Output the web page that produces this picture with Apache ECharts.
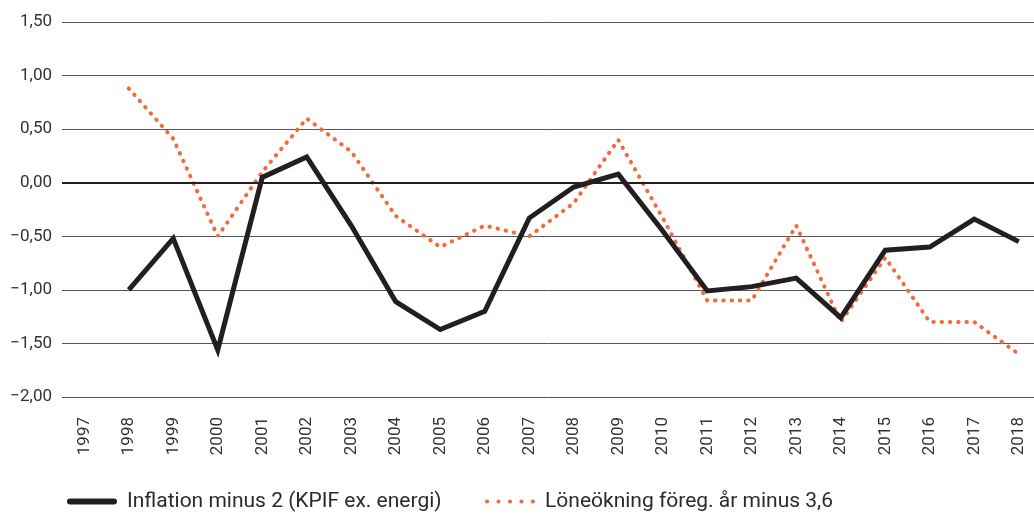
<!DOCTYPE html>
<html>
<head>
<meta charset="utf-8">
<script src="https://cdn.jsdelivr.net/npm/echarts@6/dist/echarts.min.js"></script>
<style>
  html, body { margin: 0; padding: 0; background: #fff; }
  #chart { width: 1034px; height: 513px; }
</style>
</head>
<body>
<div id="chart"></div>
<script>
// årtal på x-axeln
const years = ['1997', '1998', '1999', '2000', '2001', '2002', '2003', '2004', '2005', '2006', '2007',
  '2008', '2009', '2010', '2011', '2012', '2013', '2014', '2015', '2016', '2017', '2018']

// Inflation minus 2 (KPIF ex. energi)
const inflation = [null, -1.00, -0.52, -1.56, 0.05, 0.24, -0.40, -1.11, -1.37, -1.20, -0.33,
  -0.04, 0.08, -0.45, -1.01, -0.97, -0.89, -1.26, -0.63, -0.60, -0.34, -0.55]

// Löneökning föreg. år minus 3,6
const wages = [null, 0.88, 0.41, -0.50, 0.10, 0.60, 0.29, -0.31, -0.60, -0.40, -0.50,
  -0.19, 0.40, -0.33, -1.10, -1.10, -0.40, -1.30, -0.70, -1.30, -1.30, -1.60]

const seriesNames = ['Inflation minus 2 (KPIF ex. energi)', 'Löneökning föreg. år minus 3,6']
const yTicks = {min: -2, max: 1.5, interval: 0.5}

const black = '#231f20'
const orange = '#f26a3d'

// 1,50 / −2,00
const fmt = v => v.toFixed(2).replace('.', ',').replace('-', '\u2212')

// legend-ikoner: tjockt streck resp. fem prickar
const barIcon = 'path://M3,0h44a3,3 0 0,1 0,6h-44a3,3 0 0,1 0,-6z'
const dotIcon = 'path://' + [0, 11, 22, 33, 44].map(x => `M${x},2a2,2 0 1,0 4,0a2,2 0 1,0 -4,0z`).join('')

const legendText = {fontSize: 21, color: '#2b2b2b', fontFamily: 'Roboto', padding: [0, 0, 0, 5]}

const chart = echarts.init(document.getElementById('chart'))

const option = {
  animation: false,
  textStyle: {fontFamily: 'Roboto'},
  grid: {left: 62, right: -7, top: 22, bottom: 116, outerBoundsMode: 'none'},
  legend: [
    {
      left: 62,
      top: 486,
      itemWidth: 50,
      itemHeight: 6,
      itemStyle: {borderWidth: 0},
      textStyle: legendText,
      data: [{name: seriesNames[0], icon: barIcon}]
    },
    {
      left: 480,
      top: 486,
      itemWidth: 50,
      itemHeight: 5,
      itemStyle: {borderWidth: 0},
      textStyle: legendText,
      data: [{name: seriesNames[1], icon: dotIcon}]
    }
  ],
  xAxis: {
    type: 'category',
    data: years,
    boundaryGap: true,
    axisLine: {show: false},
    axisTick: {show: false},
    axisLabel: {rotate: 90, fontSize: 17, color: '#333', margin: 20}
  },
  yAxis: {
    type: 'value',
    min: yTicks.min,
    max: yTicks.max,
    interval: yTicks.interval,
    axisLine: {show: false},
    axisTick: {show: false},
    axisLabel: {formatter: fmt, fontSize: 17, color: '#333', margin: 10},
    splitLine: {lineStyle: {color: '#555', width: 1}}
  },
  series: [
    {
      name: seriesNames[0],
      type: 'line',
      data: inflation,
      symbol: 'none',
      z: 3,
      lineStyle: {color: black, width: 5, join: 'miter'},
      itemStyle: {color: black},
      markLine: {
        silent: true,
        symbol: 'none',
        label: {show: false},
        lineStyle: {color: black, width: 2, type: 'solid'},
        data: [{yAxis: 0}]
      }
    },
    {
      name: seriesNames[1],
      type: 'line',
      data: wages,
      symbol: 'none',
      z: 2,
      lineStyle: {color: orange, width: 4, type: [0.5, 7.8], cap: 'round'},
      itemStyle: {color: orange}
    }
  ]
}

chart.setOption(option)
</script>
</body>
</html>
